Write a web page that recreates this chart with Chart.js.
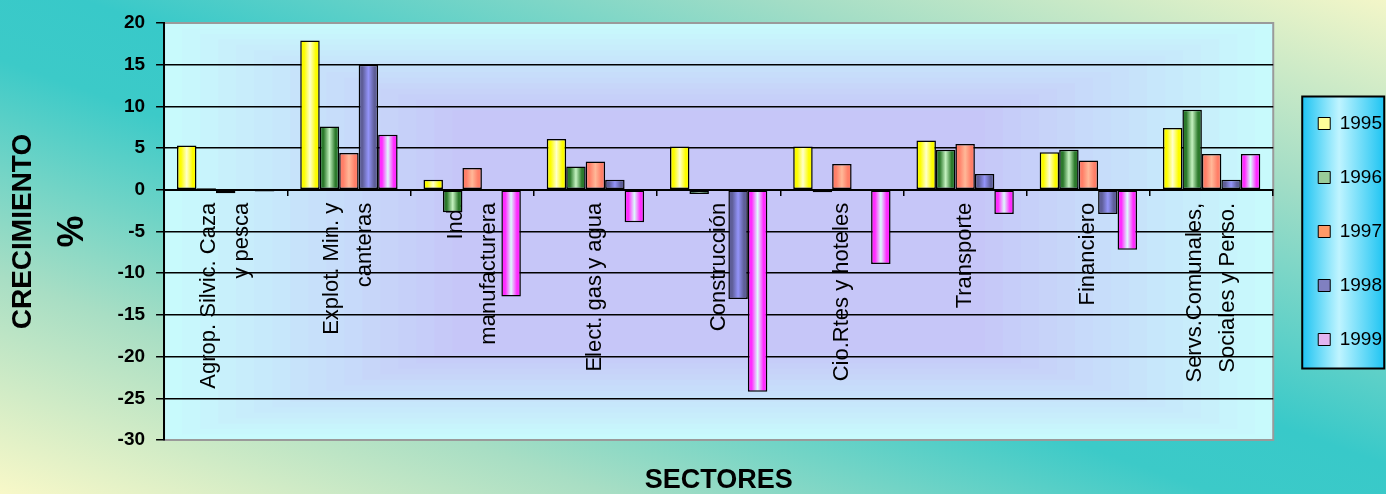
<!DOCTYPE html>
<html>
<head>
<meta charset="utf-8">
<script src="https://cdn.jsdelivr.net/npm/chart.js@4.4.1/dist/chart.umd.min.js"></script>
<style>
  html, body { margin: 0; padding: 0; }
  body {
    width: 1386px; height: 494px; overflow: hidden;
    background: linear-gradient(to bottom left, #f3f6c8 0%, #a2ddc6 22%, #38c9c9 47%, #3ccac8 56%, #a8dec4 78%, #f8f8c8 100%);
  }
  #wrap { position: relative; width: 1386px; height: 494px; }
</style>
</head>
<body>
<div id="wrap"><canvas id="chart"></canvas></div>
<script>
// Sectores económicos (eje X)
const sectores = [
  ['Agrop. Silvic. Caza', 'y pesca'],
  ['Explot. Min. y', 'canteras'],
  ['Ind.', 'manufacturera'],
  'Elect. gas y agua',
  'Construcción',
  'Cio.Rtes y hoteles',
  'Transporte',
  'Financiero',
  ['Servs.Comunales,', 'Sociales y Perso.']
];
const anios = ['1995', '1996', '1997', '1998', '1999'];

// Crecimiento % por año
const crec1995 = [5.3, 17.9, 1.2, 6.1, 5.2, 5.2, 5.9, 4.5, 7.4];
const crec1996 = [0.2, 7.6, -2.7, 2.8, -0.5, -0.3, 4.8, 4.8, 9.6];
const crec1997 = [-0.4, 4.4, 2.6, 3.4, 0, 3.1, 5.5, 3.5, 4.3];
const crec1998 = [0, 15.0, 0, 1.2, -13.1, 0, 1.9, -2.9, 1.2];
const crec1999 = [-0.2, 6.6, -12.8, -3.9, -24.2, -8.9, -2.9, -7.2, 4.3];

const yMin = -30, yMax = 20, yStep = 5;

// colores: borde del cilindro, centro claro, muestra de leyenda
const edgeColors = ['#fcfc00', '#2c7a2c', '#ff7f68', '#5e5e98', '#ff2cff'];
const midColors  = ['#ffffcc', '#c4f2c0', '#ffb898', '#9494fa', '#dcfafa'];
const legendFills = ['#ffff99', '#99cc99', '#ff9966', '#8080c0', '#e2b4f0'];

const FONT = '"Liberation Sans", Arial, sans-serif';
const LABEL_SIZE = 22;
const LABEL_GAP = 16.5; // media distancia entre las dos líneas de una etiqueta

function barFill(i) {
  return (c) => {
    if (c.dataIndex === undefined) return edgeColors[i];
    const el = c.chart.getDatasetMeta(c.datasetIndex).data[c.dataIndex];
    if (!el || !el.width || isNaN(el.x)) return edgeColors[i];
    const x0 = el.x - el.width / 2, x1 = el.x + el.width / 2;
    const g = c.chart.ctx.createLinearGradient(x0, 0, x1, 0);
    g.addColorStop(0, edgeColors[i]);
    g.addColorStop(0.2, edgeColors[i]);
    g.addColorStop(0.5, midColors[i]);
    g.addColorStop(0.8, edgeColors[i]);
    g.addColorStop(1, edgeColors[i]);
    return g;
  };
}

const series = [crec1995, crec1996, crec1997, crec1998, crec1999];

// fondo del área de trazado + cuadro de leyenda + "%"
const decor = {
  id: 'decor',
  afterLayout(chart) {
    // correr la leyenda hacia la derecha
    chart.legend.left += 10;
    chart.legend.right += 10;
  },
  beforeDraw(chart) {
    const {ctx, chartArea: a} = chart;
    ctx.save();
    // degradado rectangular desde el centro
    const steps = 16;
    const c0 = [200, 250, 252], c1 = [198, 198, 248];
    for (let k = 0; k <= steps; k++) {
      const t = k / steps;
      const dx = (a.width / 2) * 0.52 * t, dy = (a.height / 2) * 0.42 * t;
      const col = c0.map((v, j) => Math.round(v + (c1[j] - v) * t));
      ctx.fillStyle = `rgb(${col.join(',')})`;
      ctx.fillRect(a.left + dx, a.top + dy, a.width - 2 * dx, a.height - 2 * dy);
    }
    ctx.strokeStyle = '#9a9a9a';
    ctx.lineWidth = 2;
    ctx.strokeRect(a.left, a.top, a.width, a.height);

    // cuadro de la leyenda
    const hb = chart.legend.legendHitBoxes;
    if (hb && hb.length) {
      const left = hb[0].left - 16, right = left + 82;
      const top = hb[0].top + 9.5 - 27, bottom = hb[hb.length - 1].top + 9.5 + 29;
      const g = ctx.createLinearGradient(left, 0, right, 0);
      g.addColorStop(0, '#1ec4f2');
      g.addColorStop(0.45, '#bff4ff');
      g.addColorStop(1, '#1ec4f2');
      ctx.fillStyle = g;
      ctx.fillRect(left, top, right - left, bottom - top);
      ctx.strokeStyle = '#000';
      ctx.lineWidth = 2;
      ctx.strokeRect(left, top, right - left, bottom - top);
    }
    ctx.restore();
  },
  afterDraw(chart) {
    const {ctx, chartArea: a} = chart;
    ctx.save();
    ctx.translate(chart.scales.y.left + 73, (a.top + a.bottom) / 2);
    ctx.rotate(-Math.PI / 2);
    ctx.font = 'bold 36px ' + FONT;
    ctx.fillStyle = '#000';
    ctx.textAlign = 'center';
    ctx.textBaseline = 'middle';
    ctx.fillText('%', 0, 0);
    ctx.restore();
  }
};

const chart = new Chart(document.getElementById('chart'), {
  type: 'bar',
  data: {
    labels: sectores,
    datasets: anios.map((anio, i) => ({
      label: anio,
      data: series[i],
      backgroundColor: barFill(i),
      borderColor: '#000',
      borderWidth: 1.5,
      borderSkipped: false,
      categoryPercentage: 0.79,
      barPercentage: 1
    }))
  },
  options: {
    responsive: true,
    maintainAspectRatio: false,
    animation: false,
    layout: { padding: { top: 23, right: 4, bottom: 0, left: 0 } },
    plugins: {
      tooltip: { enabled: false },
      legend: {
        position: 'right',
        fullSize: false,
        labels: {
          boxWidth: 12,
          boxHeight: 12,
          padding: 35,
          color: '#000',
          font: { family: FONT, size: 19, lineHeight: 1 },
          generateLabels: (ch) => ch.data.datasets.map((ds, i) => ({
            text: ds.label,
            fillStyle: legendFills[i],
            strokeStyle: '#000',
            lineWidth: 1,
            hidden: !ch.isDatasetVisible(i),
            datasetIndex: i
          }))
        }
      },
      title: {
        display: true,
        position: 'bottom',
        fullSize: false,
        text: 'SECTORES',
        color: '#000',
        font: { family: FONT, size: 27, weight: 'bold', lineHeight: 1 },
        padding: { top: 27, bottom: 0 }
      }
    },
    scales: {
      x: {
        position: { y: 0 },
        z: 1,
        grid: { offset: true, drawOnChartArea: false, drawTicks: true, tickLength: 5, color: '#000', lineWidth: 1.5 },
        border: { color: '#000', width: 2 },
        ticks: {
          color: '#000',
          font: { family: FONT, size: LABEL_SIZE, lineHeight: LABEL_GAP / LABEL_SIZE },
          // centrar las etiquetas de dos líneas sobre la categoría
          callback: (val, i) => {
            const l = sectores[i];
            return Array.isArray(l) ? [l[0], '', l[1]] : ['', l];
          },
          labelOffset: -LABEL_GAP,
          minRotation: 90,
          maxRotation: 90,
          autoSkip: false,
          padding: 8
        }
      },
      y: {
        min: yMin,
        max: yMax,
        ticks: { stepSize: yStep, color: '#000', font: { family: FONT, size: 19, weight: 'bold' }, padding: 11 },
        grid: {
          color: (c) => (c.tick && (c.tick.value === yMax || c.tick.value === yMin)) ? '#9a9a9a' : '#000',
          tickColor: '#000',
          lineWidth: 1.5,
          tickLength: 8
        },
        border: { color: '#000', width: 2 },
        title: {
          display: true,
          text: 'CRECIMIENTO',
          color: '#000',
          font: { family: FONT, size: 28, weight: 'bold' },
          padding: { top: 6, bottom: 67 }
        }
      }
    }
  },
  plugins: [decor]
});

// segunda pasada para que los degradados usen la geometría de las barras
chart.update();
</script>
</body>
</html>
